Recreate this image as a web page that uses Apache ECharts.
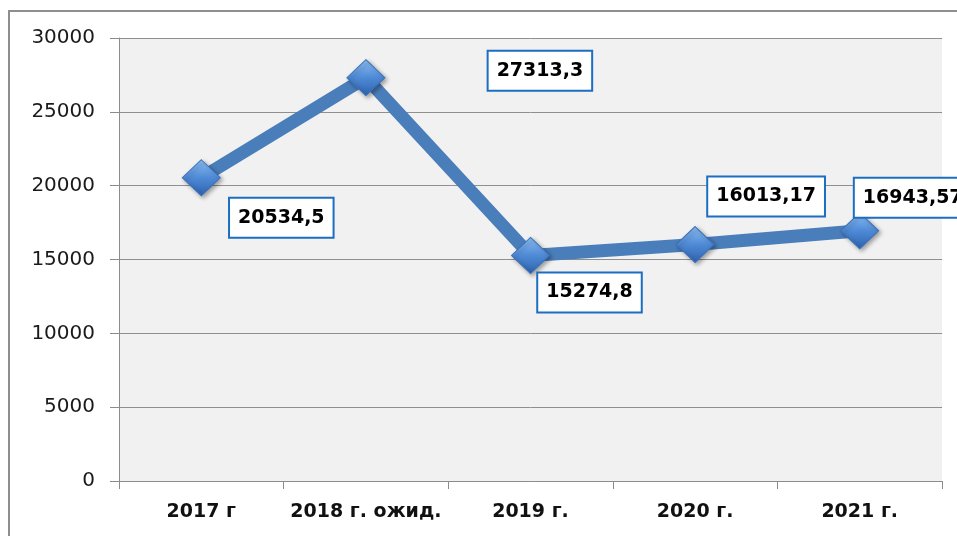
<!DOCTYPE html>
<html>
<head>
<meta charset="utf-8">
<script src="https://cdn.jsdelivr.net/npm/echarts@6/dist/echarts.min.js"></script>
<style>
html, body { margin: 0; padding: 0; background: #fff; }
#chart { width: 957px; height: 536px; }
</style>
</head>
<body>
<div id="chart"></div>
<script>
// категории и значения
var years = ['2017 г', '2018 г. ожид.', '2019 г.', '2020 г.', '2021 г.'];
var values = [20534.5, 27313.3, 15274.8, 16013.17, 16943.57];
var valueLabels = ['20534,5', '27313,3', '15274,8', '16013,17', '16943,57'];
// смещения подписей относительно точки
var labelOffsets = [[80, 40], [174, -7], [59, 37], [71, -48], [53, -33]];

var chart = echarts.init(document.getElementById('chart'));

var seriesData = values.map(function (v, i) {
    return {
        value: v,
        label: {
            formatter: valueLabels[i],
            offset: labelOffsets[i]
        }
    };
});

var option = {
    animation: false,
    backgroundColor: '#fff',
    graphic: [{
        type: 'rect',
        shape: { x: 9, y: 11, width: 1000, height: 600 },
        style: { fill: 'none', stroke: '#8e8e8e', lineWidth: 2 },
        z: 100
    }],
    grid: {
        left: 119,
        top: 38,
        right: 15,
        bottom: 55,
        show: true,
        backgroundColor: '#f1f1f1',
        borderWidth: 0
    },
    xAxis: {
        type: 'category',
        data: years,
        boundaryGap: true,
        axisLine: { lineStyle: { color: '#8c8c8c', width: 1 } },
        axisTick: { show: true, length: 8, lineStyle: { color: '#8c8c8c' } },
        axisLabel: {
            interval: 0,
            margin: 22,
            color: '#111',
            fontFamily: 'DejaVu Sans',
            fontWeight: 'bold',
            fontSize: 19
        }
    },
    yAxis: {
        type: 'value',
        min: 0,
        max: 30000,
        interval: 5000,
        axisLine: { show: true, lineStyle: { color: '#8c8c8c', width: 1 } },
        axisTick: { show: true, length: 9, lineStyle: { color: '#8c8c8c' } },
        splitLine: { lineStyle: { color: '#8f8f8f', width: 1 } },
        axisLabel: {
            margin: 24,
            color: '#1a1a1a',
            fontFamily: 'DejaVu Sans',
            fontSize: 20,
            formatter: function (v) { return String(v); }
        }
    },
    series: [{
        type: 'line',
        data: seriesData,
        symbol: 'diamond',
        symbolSize: [38, 36],
        lineStyle: { color: '#4a7ebb', width: 13 },
        itemStyle: {
            color: {
                type: 'linear', x: 0, y: 0, x2: 0, y2: 1,
                colorStops: [
                    { offset: 0, color: '#8fc0f5' },
                    { offset: 0.5, color: '#4f8ad6' },
                    { offset: 1, color: '#2d62ad' }
                ]
            },
            borderColor: '#3a72bd',
            borderWidth: 1,
            shadowColor: 'rgba(0,0,0,0.35)',
            shadowBlur: 4,
            shadowOffsetX: 2,
            shadowOffsetY: 2
        },
        label: {
            show: true,
            position: 'inside',
            color: '#000',
            fontFamily: 'DejaVu Sans',
            fontWeight: 'bold',
            fontSize: 19,
            lineHeight: 22,
            backgroundColor: '#fff',
            borderColor: '#1b6ec2',
            borderWidth: 2,
            padding: [8, 8]
        },
        z: 5
    }]
};

chart.setOption(option);
window.addEventListener('resize', function () {
    chart.resize();
});
</script>
</body>
</html>
